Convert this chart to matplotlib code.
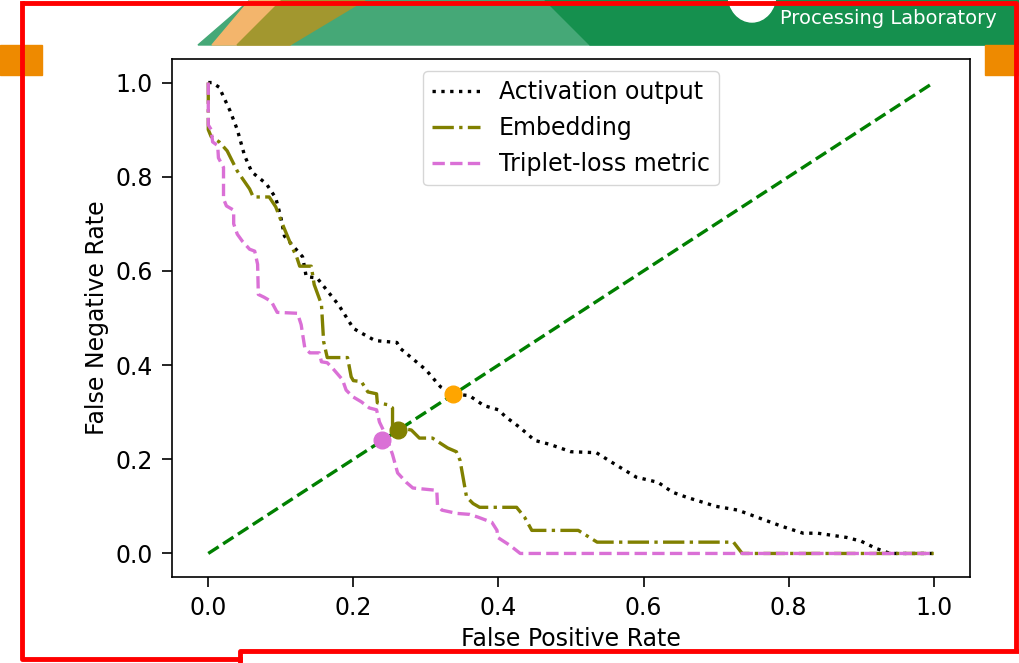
import numpy as np
import matplotlib
matplotlib.use('Agg')
import matplotlib.pyplot as plt
from matplotlib.patches import Polygon, Rectangle, Ellipse

# ROC-style curves (false positive rate, false negative rate)
act_fpr = [0.0, 0.005, 0.015, 0.03, 0.04, 0.05, 0.06, 0.08, 0.093, 0.1, 0.105, 0.13, 0.135,
           0.15, 0.18, 0.2, 0.21, 0.23, 0.26, 0.265, 0.3, 0.32, 0.338, 0.36, 0.38, 0.4, 0.41,
           0.43, 0.45, 0.47, 0.5, 0.535, 0.56, 0.59, 0.62, 0.64, 0.66, 0.7, 0.73, 0.76, 0.79,
           0.82, 0.84, 0.88, 0.9, 0.92, 0.94, 1.0]
act_fnr = [1.0, 1.0, 0.99, 0.94, 0.90, 0.845, 0.81, 0.785, 0.755, 0.714, 0.674, 0.63, 0.588,
           0.585, 0.527, 0.478, 0.469, 0.452, 0.448, 0.435, 0.39, 0.354, 0.339, 0.335, 0.314,
           0.305, 0.29, 0.267, 0.24, 0.232, 0.216, 0.214, 0.19, 0.162, 0.151, 0.13, 0.119, 0.1,
           0.092, 0.075, 0.058, 0.043, 0.043, 0.034, 0.026, 0.011, 0.0, 0.0]

emb_fpr = [0.0, 0.0, 0.004, 0.015, 0.026, 0.04, 0.057, 0.062, 0.084, 0.093, 0.101, 0.115,
           0.122, 0.126, 0.142, 0.146, 0.156, 0.159, 0.164, 0.192, 0.197, 0.2, 0.211, 0.22,
           0.232, 0.233, 0.247, 0.254, 0.254, 0.28, 0.291, 0.309, 0.33, 0.342, 0.347, 0.356,
           0.365, 0.374, 0.425, 0.436, 0.446, 0.51, 0.536, 0.724, 0.736, 1.0]
emb_fnr = [1.0, 0.9, 0.885, 0.874, 0.855, 0.812, 0.774, 0.757, 0.757, 0.736, 0.704, 0.652,
           0.629, 0.61, 0.61, 0.571, 0.529, 0.45, 0.416, 0.416, 0.375, 0.367, 0.365, 0.343,
           0.339, 0.32, 0.316, 0.309, 0.27, 0.262, 0.245, 0.245, 0.224, 0.216, 0.198, 0.12,
           0.106, 0.098, 0.098, 0.077, 0.049, 0.049, 0.024, 0.024, 0.0, 0.0]

trip_fpr = [0.0, 0.0, 0.004, 0.006, 0.013, 0.014, 0.021, 0.021, 0.025, 0.035, 0.035, 0.04,
            0.047, 0.057, 0.064, 0.068, 0.069, 0.077, 0.087, 0.095, 0.123, 0.128, 0.133, 0.14,
            0.153, 0.156, 0.164, 0.171, 0.185, 0.19, 0.199, 0.211, 0.222, 0.232, 0.236, 0.245,
            0.254, 0.261, 0.273, 0.282, 0.315, 0.316, 0.322, 0.343, 0.36, 0.372, 0.391, 0.398,
            0.399, 0.416, 0.43, 1.0]
trip_fnr = [1.0, 0.91, 0.9, 0.874, 0.866, 0.84, 0.82, 0.753, 0.738, 0.729, 0.7, 0.678,
            0.663, 0.646, 0.642, 0.614, 0.55, 0.544, 0.535, 0.512, 0.51, 0.486, 0.437, 0.426,
            0.426, 0.407, 0.405, 0.394, 0.369, 0.347, 0.333, 0.322, 0.309, 0.305, 0.279, 0.25,
            0.21, 0.171, 0.151, 0.139, 0.134, 0.102, 0.092, 0.085, 0.083, 0.077, 0.066, 0.049,
            0.034, 0.017, 0.0, 0.0]

# equal error rate points
eer_values = [0.338, 0.262, 0.24]
eer_colors = ['orange', 'olive', 'orchid']

labels = ['Activation output', 'Embedding', 'Triplet-loss metric']

plt.rcParams['font.size'] = 17
plt.rcParams['lines.linewidth'] = 2.4
plt.rcParams['axes.linewidth'] = 1.2
for ax_name in ['xtick', 'ytick']:
    plt.rcParams[ax_name + '.major.size'] = 7
    plt.rcParams[ax_name + '.major.width'] = 1.2
    plt.rcParams[ax_name + '.major.pad'] = 7

fig = plt.figure(figsize=(10.19, 6.63), dpi=100)

# slide decoration behind the chart (pixel coordinates)
bg = fig.add_axes([0, 0, 1, 1], zorder=0)
bg.set_xlim(0, 1019)
bg.set_ylim(663, 0)
bg.axis('off')
bg.add_patch(Polygon([(198, 45), (250, 0), (1019, 0), (1019, 45)], color='#45a877'))
bg.add_patch(Polygon([(212, 45), (250, 0), (330, 0), (290, 45)], color='#f3b56c'))
bg.add_patch(Polygon([(237, 45), (282, 0), (365, 0), (290, 45)], color='#a2972f'))
bg.add_patch(Polygon([(590, 45), (545, 0), (1019, 0), (1019, 45)], color='#15904e'))
bg.add_patch(Ellipse((752, -6), 48, 56, color='white'))
bg.add_patch(Rectangle((0, 45), 42, 30, color='#ee8a00'))
bg.add_patch(Rectangle((985, 45), 34, 30, color='#ee8a00'))
bg.text(888, 18, 'Processing Laboratory', color='white', fontsize=14,
        ha='center', va='center', family='Liberation Sans Narrow')
red = '#ff0000'
bg.plot([22, 1016, 1016], [3, 3, 650], color=red, lw=3.5, solid_capstyle='butt')
bg.plot([22, 22, 240], [3, 659, 659], color=red, lw=3.5)
bg.plot([240, 240, 1019], [663, 651, 651], color=red, lw=3.5)

ax = fig.add_axes([172 / 1019, 1 - 577 / 663, (970 - 172) / 1019, (577 - 59) / 663], zorder=1)
ax.plot(act_fpr, act_fnr, 'k:', label=labels[0])
ax.plot(emb_fpr, emb_fnr, color='olive', linestyle='-.', label=labels[1])
ax.plot(trip_fpr, trip_fnr, color='orchid', linestyle='--', label=labels[2])
ax.plot([0, 1], [0, 1], 'g--')
for v, c in zip(eer_values, eer_colors):
    ax.plot(v, v, 'o', color=c, markersize=12)

ax.set_xlim(-0.05, 1.05)
ax.set_ylim(-0.05, 1.05)
ax.set_xticks(np.arange(0, 1.01, 0.2))
ax.set_yticks(np.arange(0, 1.01, 0.2))
ax.set_xlabel('False Positive Rate', labelpad=5)
ax.set_ylabel('False Negative Rate', labelpad=4)
ax.legend(loc='upper center')

fig.savefig('out.png', dpi=100)
